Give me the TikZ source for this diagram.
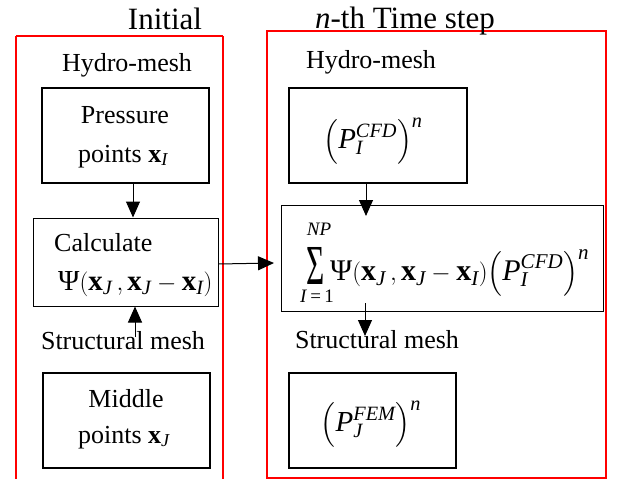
\documentclass[tikz,border=0pt]{standalone}
\usepackage{amsmath}
\usepackage{graphicx}
\usepackage{fontspec}
\setmainfont{Liberation Serif}
\usetikzlibrary{arrows.meta,calc}
\newcommand{\ti}[1]{\text{\itshape #1}}
\newcommand{\bx}{\text{\bfseries x}}
\newcommand{\Psy}{\text{\upshape Ψ}}
\tikzset{
  redbox/.style={draw=red, line width=2pt},
  thickbox/.style={draw, line width=2pt, inner sep=0pt},
  thinbox/.style={draw, line width=1pt, inner sep=0pt},
  head/.style={font=\fontsize{31}{36}\selectfont, anchor=base, inner sep=0pt},
  lbl/.style={font=\fontsize{26}{30}\selectfont, anchor=base, inner sep=0pt},
  mth/.style={font=\fontsize{29}{33}\selectfont, anchor=base, inner sep=0pt},
  lim/.style={font=\fontsize{19}{22}\selectfont, anchor=base, inner sep=0pt},
  arr/.style={line width=1pt, -{Triangle[width=14pt,length=16pt]}},
}
\begin{document}
\begin{tikzpicture}[x=1pt,y=-1pt]
\useasboundingbox (0,0) rectangle (622,479);
% red frames
\draw[redbox] (16,36) -- (16,485) (223,36) -- (223,485) (16,36) -- (223,36);
\node[redbox, minimum width=339, minimum height=447, inner sep=0pt] (rframe) at (436.5,254.5) {};
% headings
\node[head] (hinit) at (165,29) {Initial};
\node[head] (hstep) at (405,28) {\textit{n}-th Time step};
\node[lbl] (hml) at (127,71) {Hydro-mesh};
\node[lbl] (hmr) at (371,68) {Hydro-mesh};
\node[lbl] (sml) at (123,349) {Structural mesh};
\node[lbl] (smr) at (377,348) {Structural mesh};
% left boxes
\node[thickbox, minimum width=167, minimum height=95] (press) at (125.5,135.5) {};
\node[lbl] (pressA) at (125,123) {Pressure};
\node[lbl] (pressB) at (123,162) {points \(\bx_{\ti{I}}\)};
\node[thinbox, minimum width=185, minimum height=88] (calc) at (125.5,262) {};
\node[lbl, anchor=base west] (calcA) at (54,251) {Calculate};
\node[mth, anchor=base west] (calcB) at (58,290) {\(\Psy(\bx_{\ti{J}}\,,\bx_{\ti{J}}-\bx_{\ti{I}})\)};
\node[thickbox, minimum width=167, minimum height=95] (mid) at (126.5,420.5) {};
\node[lbl] (midA) at (126,407) {Middle};
\node[lbl] (midB) at (124,443) {points \(\bx_{\ti{J}}\)};
% right boxes
\node[thickbox, minimum width=178, minimum height=95] (pcfd) at (378,135.5) {};
\node[mth] (pcfdT) at (373,148) {\(\left(\ti{P}_{\ti{I}}^{\ti{CFD}}\right)^{\ti{n}}\)};
\node[thinbox, minimum width=322, minimum height=106] (sumb) at (442,258) {};
\node[font=\fontsize{29}{33}\selectfont, anchor=south, inner sep=0pt] (sig) at (316,285) {\scalebox{1.08}[1.95]{Σ}};
\node[lim] (sigup) at (319,235) {\textit{NP}};
\node[lim] (sigdn) at (317,302) {\textit{I}\,=\,1};
\node[mth, font=\fontsize{30}{34}\selectfont, anchor=base west] (sumT) at (330,280) {\(\Psy(\bx_{\ti{J}}\,,\bx_{\ti{J}}-\bx_{\ti{I}})\!\left(\ti{P}_{\ti{I}}^{\ti{CFD}}\right)^{\ti{n}}\)};
\node[thickbox, minimum width=167, minimum height=95] (pfem) at (372.5,420.5) {};
\node[mth] (pfemT) at (371,431) {\(\left(\ti{P}_{\ti{J}}^{\ti{FEM}}\right)^{\ti{n}}\)};
% connectors
\coordinate (a1) at (133,0);
\draw[arr] (press.south -| a1) -- (calc.north -| a1);
\coordinate (s1) at (135,337);
\draw[arr] (s1) -- (calc.south -| s1);
\coordinate (t3) at (274,263);
\draw[arr] (calc.east |- 0,264) -- (t3);
\coordinate (a4) at (366,216);
\draw[arr] (pcfd.south -| a4) -- (a4);
\coordinate (s5a) at (365,303);
\coordinate (s5b) at (365,336);
\draw[arr] (s5a) -- (s5b);
\end{tikzpicture}
\end{document}
